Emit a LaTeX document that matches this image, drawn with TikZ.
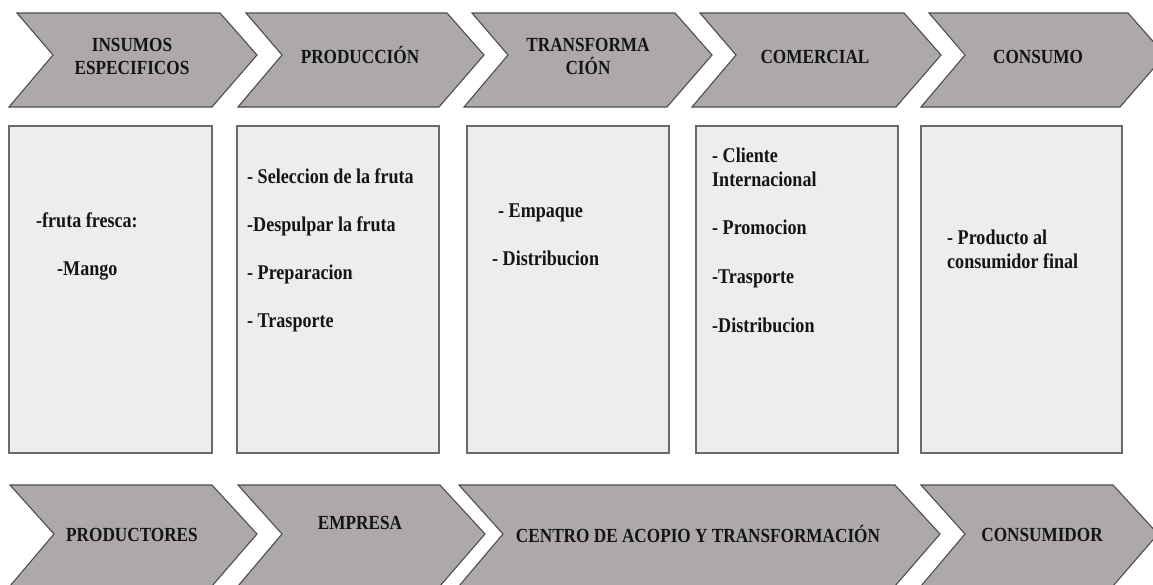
\documentclass[tikz,border=0pt]{standalone}
\usepackage{fontspec}
\setmainfont[FakeStretch=0.86]{Liberation Serif}
\definecolor{chevfill}{HTML}{ADA9A9}
\definecolor{chevline}{HTML}{4D4D4D}
\definecolor{boxfill}{HTML}{EDEDED}
\definecolor{boxline}{HTML}{6A6A6A}
\definecolor{inkc}{HTML}{141414}
\newcommand\topchev[2]{\draw[chev] (#1+8,13) -- (#2+8,13) -- (#2+45,55) -- (#2,107) -- (#1,107) -- (#1+44,55) -- cycle;}
\newcommand\botchev[2]{\draw[chev] (#1,485) -- (#2,485) -- (#2+45,534) -- (#2,586) -- (#1,586) -- (#1+44,534) -- cycle;}
\begin{document}
\begin{tikzpicture}[x=1pt,y=-1pt,
  chev/.style={fill=chevfill,draw=chevline,line width=1.1pt,line join=miter},
  panel/.style={fill=boxfill,draw=boxline,line width=1.5pt},
  head/.style={font=\fontsize{20}{23}\selectfont\bfseries,inner sep=0pt,align=center,text=inkc},
  body/.style={font=\fontsize{21}{24}\selectfont\bfseries,inner sep=0pt,align=left,text=inkc}]
\useasboundingbox (0,0) rectangle (1153,584);
\clip (0,0) rectangle (1153,584);
\fill[white] (0,0) rectangle (1153,584);
% top chevrons
\topchev{9}{212}
\topchev{238}{439}
\topchev{464}{667}
\topchev{692}{896}
\topchev{921}{1120}
\node[head,anchor=center] (t1) at (132,56.5) {INSUMOS\\ESPECIFICOS};
\node[head,anchor=base] (t2) at (360,63.6) {PRODUCCIÓN};
\node[head,anchor=center] (t3) at (588,56.5) {TRANSFORMA\\CIÓN};
\node[head,anchor=base] (t4) at (815,63.6) {COMERCIAL};
\node[head,anchor=base] (t5) at (1038,63.6) {CONSUMO};
% panels
\draw[panel] (9,126) rectangle (212,453);
\draw[panel] (237,126) rectangle (439,453);
\draw[panel] (467,126) rectangle (669,453);
\draw[panel] (696,126) rectangle (898,453);
\draw[panel] (921,126) rectangle (1122,453);
% anchor=base west is the baseline of the last line
\node[body,anchor=base west] (p1) at (36,275) {-fruta fresca:\\[24pt]\hspace*{21pt}-Mango};
\node[body,anchor=base west] (p2) at (247,327) {- Seleccion de la fruta\\[24pt]-Despulpar la fruta\\[24pt]- Preparacion\\[24pt]- Trasporte};
\node[body,anchor=base west] (p3) at (492,265) {\hspace*{6pt}- Empaque\\[24pt]- Distribucion};
\node[body,anchor=base west] (p4) at (712,332) {- Cliente\\Internacional\\[24pt]- Promocion\\[25pt]-Trasporte\\[25pt]-Distribucion};
\node[body,anchor=base west] (p5) at (947,268) {- Producto al\\consumidor final};
% bottom chevrons
\botchev{10}{212}
\botchev{238}{440}
\botchev{459}{895}
\botchev{921}{1113}
\node[head,anchor=base] (b1) at (132,541.6) {PRODUCTORES};
\node[head,anchor=base] (b2) at (360,529.6) {EMPRESA};
\node[head,anchor=base] (b3) at (698,542.6) {CENTRO DE ACOPIO Y TRANSFORMACIÓN};
\node[head,anchor=base] (b4) at (1042,541.6) {CONSUMIDOR};
\end{tikzpicture}
\end{document}
